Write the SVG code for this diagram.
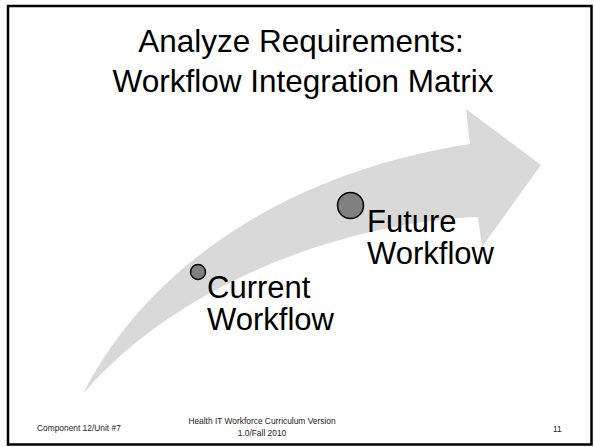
<svg xmlns="http://www.w3.org/2000/svg" width="594" height="447" viewBox="0 0 594 447">
<style>
.title{font-family:"Liberation Sans",Arial,sans-serif;font-size:31.5px;fill:#000;text-anchor:middle}
.lbl{font-family:"Liberation Sans",Arial,sans-serif;font-size:31px;fill:#000}
.foot{font-family:"Liberation Sans",Arial,sans-serif;font-size:8.4px;fill:#222}
.dot{fill:#808080;stroke:#000;stroke-width:1.5}
</style>
<rect x="0" y="0" width="594" height="447" fill="#fff"/>
<rect id="frame" x="8" y="6" width="583.5" height="438.5" fill="none" stroke="#000" stroke-width="2.5"/>
<g id="title">
<text class="title" x="301" y="52">Analyze Requirements:</text>
<text class="title" x="303" y="92">Workflow Integration Matrix</text>
</g>
<g id="connectors">
<path id="arrow" fill="#d9d9d9" d="M83,394 C140,280 270,175 470,144 L466,109 L541,165 L482,247 L478,217 C350,222 180,280 83,394 Z"/>
</g>
<g id="current">
<circle class="dot" cx="198" cy="272" r="7.5"/>
<text class="lbl" x="207" y="298">Current</text>
<text class="lbl" x="207" y="330">Workflow</text>
</g>
<g id="future">
<circle class="dot" cx="350.5" cy="205.5" r="13"/>
<text class="lbl" x="367" y="232">Future</text>
<text class="lbl" x="367" y="264">Workflow</text>
</g>
<g id="footer">
<text class="foot" x="37" y="431">Component 12/Unit #7</text>
<text class="foot" x="262" y="424" text-anchor="middle">Health IT Workforce Curriculum Version</text>
<text class="foot" x="262" y="436" text-anchor="middle">1.0/Fall 2010</text>
<text class="foot" x="553" y="432">11</text>
</g>
</svg>
